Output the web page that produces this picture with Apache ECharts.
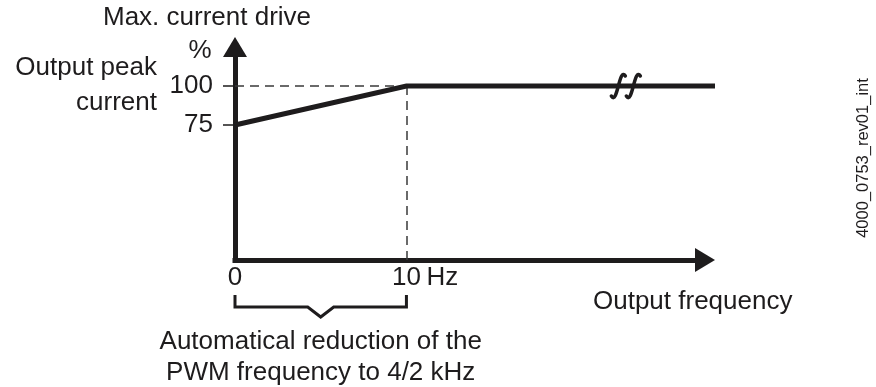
<!DOCTYPE html>
<html>
<head>
<meta charset="utf-8">
<script src="https://cdn.jsdelivr.net/npm/echarts@6/dist/echarts.min.js"></script>
<style>
  html, body { margin: 0; padding: 0; background: #ffffff; }
  #chart { width: 876px; height: 387px; }
</style>
</head>
<body>
<div id="chart"></div>
<script>
// Derating curve: max. current drive vs. output frequency
const frequencyHz = [0, 10, 28];
const currentPct = [75, 100, 100];
const yTickValues = [75, 100];
const xTickValues = [0, 10];
const reductionEndHz = 10;
const breakAtHz = 22.8;

const INK = '#1e1c1d';
const FONT = '"Liberation Sans", Arial, sans-serif';
const FS = 26;
const X_LABEL_MARGIN = 5;

// Same px-per-Hz on both grids: the axis grid stops short of the arrow tip,
// the curve grid runs all the way to it.
const X_MAX_CURVE = 28;
const X_MAX_AXIS = 27.42;
const Y_MIN = -11.5;
const Y_MAX = 125;

const chart = echarts.init(document.getElementById('chart'), null, { renderer: 'canvas' });

const axisLineStyle = {
  onZero: false,
  symbol: ['none', 'triangle'],
  symbolSize: [24, 20],
  lineStyle: { color: INK, width: 5, cap: 'square' }
};

chart.setOption({
  animation: false,
  backgroundColor: '#ffffff',
  grid: [
    { left: 235, right: 171, top: 47, bottom: 127, containLabel: false },
    { left: 235, right: 161, top: 47, bottom: 127, containLabel: false }
  ],
  xAxis: [{
    type: 'value',
    gridIndex: 0,
    min: 0,
    max: X_MAX_AXIS,
    splitLine: { show: false },
    axisLine: axisLineStyle,
    axisTick: { show: false },
    axisLabel: {
      customValues: xTickValues,
      margin: X_LABEL_MARGIN,
      color: INK,
      fontFamily: FONT,
      fontSize: FS,
      verticalAlign: 'top'
    }
  }, {
    type: 'value',
    gridIndex: 1,
    min: 0,
    max: X_MAX_CURVE,
    show: false
  }],
  yAxis: [{
    type: 'value',
    gridIndex: 0,
    min: Y_MIN,
    max: Y_MAX,
    splitLine: { show: false },
    axisLine: axisLineStyle,
    axisTick: {
      show: true,
      customValues: yTickValues,
      length: 12,
      lineStyle: { color: INK, width: 1.5 }
    },
    axisLabel: {
      customValues: yTickValues,
      margin: 22,
      color: INK,
      fontFamily: FONT,
      fontSize: FS
    }
  }, {
    type: 'value',
    gridIndex: 1,
    min: Y_MIN,
    max: Y_MAX,
    show: false
  }],
  series: [{
    type: 'line',
    xAxisIndex: 1,
    yAxisIndex: 1,
    data: frequencyHz.map((f, i) => [f, currentPct[i]]),
    symbol: 'none',
    silent: true,
    z: 5,
    lineStyle: { color: INK, width: 5, cap: 'butt', join: 'miter' },
    markLine: {
      silent: true,
      symbol: 'none',
      z: 1,
      label: { show: false },
      lineStyle: { color: '#3a3a3a', width: 1.5, type: [9, 6] },
      data: [
        [{ coord: [0, currentPct[1]] }, { coord: [reductionEndHz, currentPct[1]] }],
        [{ coord: [reductionEndHz, currentPct[1]] }, { coord: [reductionEndHz, Y_MIN] }]
      ]
    }
  }]
});

// Annotations placed from the axes' own scales
const px = (x, y) => chart.convertToPixel({ gridIndex: 1 }, [x, y]);
const pOrigin = px(0, Y_MIN);
const p10 = px(reductionEndHz, 100);
const pBreak = px(breakAtHz, 100);
const mid = (pOrigin[0] + p10[0]) / 2;

function label(text, x, y, align, size, extra, vAlign) {
  return Object.assign({
    type: 'text',
    x: x, y: y,
    silent: true,
    style: {
      text: text,
      fill: INK,
      font: (size || FS) + 'px ' + FONT,
      align: align || 'center',
      verticalAlign: vAlign || 'middle'
    }
  }, extra || {});
}

// Axis-break glyph: slanted long-s stroke with hooked ends
function sMark(cx, cy) {
  return {
    type: 'bezierCurve',
    silent: true,
    z: 20,
    shape: {
      x1: cx + 7, y1: cy - 10,
      cpx1: cx + 1, cpy1: cy - 20,
      cpx2: cx - 1, cpy2: cy + 20,
      x2: cx - 7, y2: cy + 10
    },
    style: { stroke: INK, lineWidth: 3.5, fill: null, lineCap: 'round' }
  };
}

chart.setOption({
  graphic: [
    label('Max. current drive', 207, 18, 'center'),
    label('%', 200, 51, 'center'),
    label('Output peak', 157, 68, 'right'),
    label('current', 157, 103, 'right'),
    label('Hz', p10[0] + 20, pOrigin[1] + X_LABEL_MARGIN, 'left', FS, null, 'top'),
    label('Output frequency', 593, 302, 'left'),
    label('Automatical reduction of the', mid, 342, 'center'),
    label('PWM frequency to 4/2 kHz', mid, 373, 'center'),
    label('4000_0753_rev01_int', 863, 158, 'center', 16.5, { rotation: Math.PI / 2 }),
    {
      type: 'polyline',
      silent: true,
      shape: {
        points: [
          [pOrigin[0], 295], [pOrigin[0], 307], [mid - 13, 307], [mid, 317],
          [mid + 13, 307], [p10[0], 307], [p10[0], 295]
        ]
      },
      style: { stroke: INK, lineWidth: 3, fill: null, lineJoin: 'miter' }
    },
    sMark(pBreak[0] - 7.5, pBreak[1]),
    sMark(pBreak[0] + 7.5, pBreak[1])
  ]
});
</script>
</body>
</html>
